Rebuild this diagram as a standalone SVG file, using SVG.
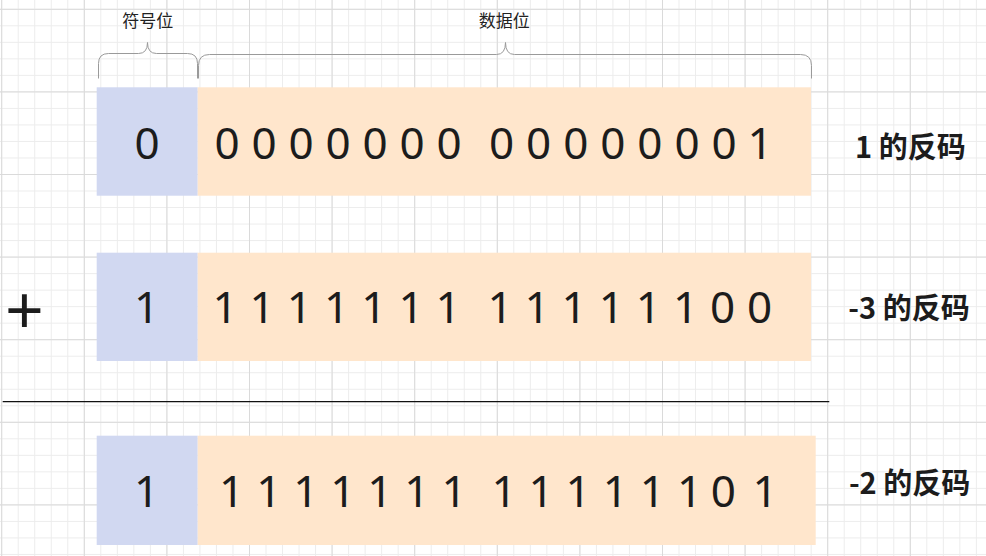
<svg xmlns="http://www.w3.org/2000/svg" width="986" height="556" viewBox="0 0 986 556">
  <defs>
    <pattern id="gridMinor" patternUnits="userSpaceOnUse" x="1.2" y="8.8" width="16.52" height="16.52">
      <rect x="0" y="0" width="1" height="16.52" fill="#ececec"/>
      <rect x="0" y="0" width="16.52" height="1" fill="#ececec"/>
    </pattern>
    <pattern id="gridMajor" patternUnits="userSpaceOnUse" x="1.2" y="8.8" width="82.6" height="82.6">
      <rect x="0" y="0" width="1" height="82.6" fill="#dadada"/>
      <rect x="0" y="0" width="82.6" height="1" fill="#dadada"/>
    </pattern>
    <style>
      .sign { fill: #d1d8f1; }
      .data { fill: #ffe6cc; }
      .digits { font-family: "Noto Sans", "Open Sans", sans-serif; font-size: 44px; fill: #1c1c1c; text-anchor: middle; }
      .label { font-family: "Noto Sans CJK SC", "Noto Sans", sans-serif; font-size: 29px; font-weight: bold; fill: #1c1c1c; text-anchor: middle; }
      .caption { font-family: "Noto Sans CJK SC", "Noto Sans", sans-serif; font-size: 17px; fill: #222222; text-anchor: middle; }
      .brace { fill: none; stroke: #9a9a9a; stroke-width: 1; }
    </style>
  </defs>

  <g id="background">
    <rect x="0" y="0" width="986" height="556" fill="#ffffff"/>
    <rect x="0" y="0" width="986" height="556" fill="url(#gridMinor)"/>
    <rect x="0" y="0" width="986" height="556" fill="url(#gridMajor)"/>
  </g>

  <g id="brace-sign">
    <path class="brace" d="M98.5,78.5 L98.5,63.5 Q98.5,53.5 108.5,53.5 L138.5,53.5 Q147.5,53.5 147.5,42.5 Q147.5,53.5 156.5,53.5 L187.5,53.5 Q197.5,53.5 197.5,63.5 L197.5,78.5"/>
    <text class="caption" x="147.7" y="26.5">符号位</text>
  </g>

  <g id="brace-data">
    <path class="brace" d="M198.5,78.5 L198.5,65.5 Q198.5,54.5 209.5,54.5 L496.5,54.5 Q505.5,54.5 505.5,42.5 Q505.5,54.5 514.5,54.5 L800.5,54.5 Q811.5,54.5 811.5,65.5 L811.5,78.5"/>
    <text class="caption" x="504.2" y="26.5">数据位</text>
  </g>

  <g id="row1">
    <rect class="sign" x="96.7" y="87.3" width="101" height="108.4"/>
    <rect class="data" x="197.7" y="87.3" width="613.3" height="108.4"/>
    <text class="digits" x="147" y="159">0</text>
    <text class="digits" x="227 245.5 264 282.5 301 319.5 338 356.5 375 393.5 412 430.5 449 475 501.7 520 538.7 557 575.8 594 612.8 631 649.9 668 687 705 724 742 760" y="159">0 0 0 0 0 0 0 0 0 0 0 0 0 0 1</text>
  </g>
  <g id="label1">
    <text class="label" x="910.4" y="158">1 的反码</text>
  </g>

  <g id="plus">
    <text x="24.5" y="334.8" style="font-family: 'Noto Sans', sans-serif; font-size: 68px; fill: #1c1c1c; text-anchor: middle;">+</text>
  </g>

  <g id="row2">
    <rect class="sign" x="96.7" y="252.7" width="101" height="108.3"/>
    <rect class="data" x="197.7" y="252.7" width="613.3" height="108.3"/>
    <text class="digits" x="146.7" y="322.5">1</text>
    <text class="digits" x="225 243.6 262.2 280.8 299.4 318 336.6 355.2 373.8 392.4 411 429.6 448.2 474 500 518.5 537.1 555.6 574.2 592.7 611.3 629.8 648.4 667 685.5 704 722.6 741 759.7" y="322.5">1 1 1 1 1 1 1 1 1 1 1 1 1 0 0</text>
  </g>
  <g id="label2">
    <text class="label" x="909" y="319">-3 的反码</text>
  </g>

  <g id="separator">
    <line x1="2.7" y1="401.7" x2="829.3" y2="401.7" stroke="#111111" stroke-width="1.2"/>
  </g>

  <g id="row3">
    <rect class="sign" x="96.7" y="435.7" width="101" height="109.3"/>
    <rect class="data" x="197.7" y="435.7" width="618" height="109.3"/>
    <text class="digits" x="146.5" y="506.5">1</text>
    <text class="digits" x="231.7 250.2 268.75 287.3 305.8 324.3 342.85 361.4 379.9 398.4 416.95 435.5 454 479 504 522.5 541.1 559.6 578.2 596.7 615.3 633.8 652.4 671 689.5 706.5 723.3 744 765" y="506.5">1 1 1 1 1 1 1 1 1 1 1 1 1 0 1</text>
  </g>
  <g id="label3">
    <text class="label" x="909.6" y="494.3">-2 的反码</text>
  </g>

  <g id="connectors"/>
</svg>
